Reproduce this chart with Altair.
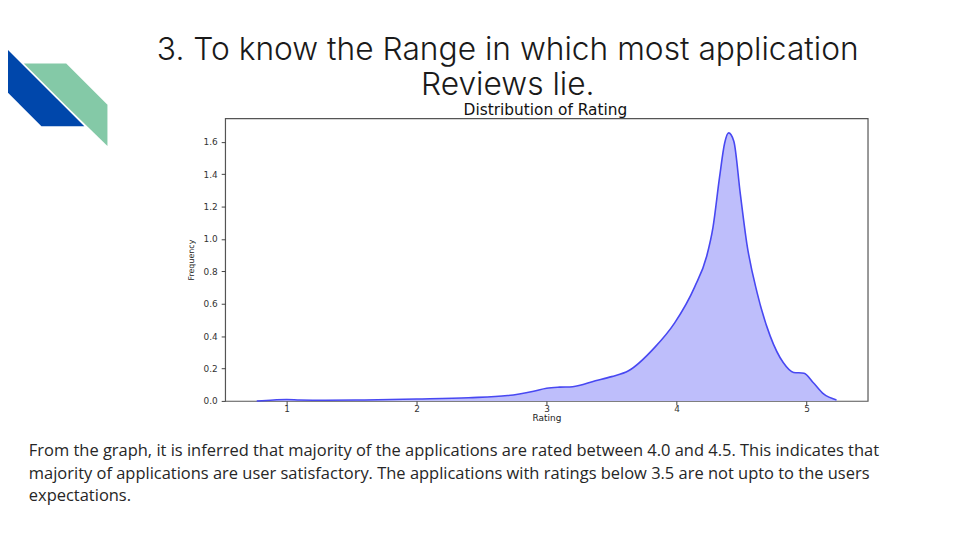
import altair as alt
import pandas as pd

# ---- data (KDE of app ratings) ----
rating = [0.77, 0.9, 1.0, 1.1, 1.3, 1.6, 2.0, 2.4, 2.7, 2.9, 3.0, 3.1, 3.2, 3.375, 3.5,
          3.63, 3.83, 3.985, 4.14, 4.23, 4.28, 4.33, 4.37, 4.40, 4.44, 4.49, 4.54, 4.62,
          4.72, 4.82, 4.90, 4.98, 5.05, 5.13, 5.23]
density = [0.0, 0.006, 0.009, 0.006, 0.004, 0.006, 0.012, 0.02, 0.033, 0.06, 0.078, 0.085,
           0.088, 0.124, 0.15, 0.186, 0.329, 0.482, 0.706, 0.89, 1.073, 1.38, 1.594, 1.655,
           1.604, 1.278, 0.972, 0.666, 0.40, 0.237, 0.176, 0.171, 0.114, 0.043, 0.006]
x_ticks = [1, 2, 3, 4, 5]
y_ticks = [0.0, 0.2, 0.4, 0.6, 0.8, 1.0, 1.2, 1.4, 1.6]

# decorative slide shapes (slide pixel space)
blue_y = [41.7, 83.3, 125.0]
blue_x = [0.0, 0.0, 41.7]
blue_x2 = [1.7, 43.3, 85.0]
green_y = [61.7, 103.3, 145.0]
green_x = [24.0, 65.6, 108.3]
green_x2 = [66.7, 108.3, 108.3]

title_lines = ["3. To know the Range in which most application", "Reviews lie."]
body_lines = [
    "From the graph, it is inferred that majority of the applications are rated between 4.0 and 4.5. This indicates that",
    "majority of applications are user satisfactory. The applications with ratings below 3.5 are not upto to the users",
    "expectations.",
]

# ---- layout ----
PL, PT, W, H = 219, 109, 648, 285  # plot area in chart coords (page margin 8px)
OX, OY = 227, 117                  # plot origin in screen coords

df = pd.DataFrame({"Rating": rating, "Frequency": density})

xs = alt.Scale(domain=[0.527, 5.47], nice=False, zero=False)
ys = alt.Scale(domain=[0, 1.745], nice=False)

axis_common = dict(labelFont="DejaVu Sans", labelFontSize=9, labelColor="#333333",
                   tickColor="#444444", tickSize=4, domain=False, grid=False,
                   labelOverlap=False, titleFont="DejaVu Sans", titleColor="#222222")

density_layer = alt.Chart(df).mark_area(
    interpolate="monotone", color="#BEBEFB", opacity=1,
    line={"color": "#4848F2", "strokeWidth": 1.6}).encode(
    x=alt.X("Rating:Q", scale=xs,
            axis=alt.Axis(values=x_ticks, format="d", title="Rating", titleFontSize=9,
                          titleFontWeight="normal", labelPadding=0, titlePadding=0, **axis_common)),
    y=alt.Y("Frequency:Q", scale=ys,
            axis=alt.Axis(values=y_ticks, format=".1f", title="Frequency", titleFontSize=8,
                          titleFontWeight="normal", labelPadding=4, titlePadding=8, **axis_common)),
)

# decorative shapes with a pixel scale
px = alt.Scale(domain=[0, 960], range=[-OX, 960 - OX])
py = alt.Scale(domain=[0, 540], range=[-OY, 540 - OY])

green_df = pd.DataFrame({"y": green_y, "x": green_x, "x2": green_x2})
blue_df = pd.DataFrame({"y": blue_y, "x": blue_x, "x2": blue_x2})

green = alt.Chart(green_df).mark_area(orient="horizontal", color="#84C9A7").encode(
    y=alt.Y("y:Q", scale=py, axis=None), x=alt.X("x:Q", scale=px, axis=None), x2="x2:Q")
blue = alt.Chart(blue_df).mark_area(orient="horizontal", color="#0047AB").encode(
    y=alt.Y("y:Q", scale=py, axis=None), x=alt.X("x:Q", scale=px, axis=None), x2="x2:Q")
deco = alt.layer(green, blue).resolve_scale(x="shared", y="shared")

# texts
def text_mark(txt, sx, sy, size, font, align="center", color="#1a1a1a", weight="normal", **kw):
    return alt.Chart(pd.DataFrame({"t": [txt]})).mark_text(
        align=align, baseline="alphabetic", fontSize=size, font=font, color=color,
        fontWeight=weight, **kw).encode(text="t:N", x=alt.value(sx - OX), y=alt.value(sy - OY))

texts = [
    text_mark("\n".join(title_lines), 512, 58, 32, "Inter", weight=300,
              lineBreak="\n", lineHeight=35),
    text_mark("Distribution of Rating", 550, 114, 15.5, "DejaVu Sans", color="#111111"),
]
for i, ln in enumerate(body_lines):
    texts.append(text_mark(ln, 29, 458 + i * 22.5, 16.6, "Open Sans", align="left", color="#262626"))

chart = alt.layer(density_layer, deco, *texts).resolve_scale(
    x="independent", y="independent").properties(
    width=W, height=H, autosize=alt.AutoSizeParams(type="none"),
    padding={"left": PL, "top": PT, "right": 952 - PL - W, "bottom": 532 - PT - H},
).configure(background="white", view=alt.ViewConfig(stroke="#555555", strokeWidth=1.2))

chart.save("out.html", embed_options={"renderer": "svg", "actions": False})
